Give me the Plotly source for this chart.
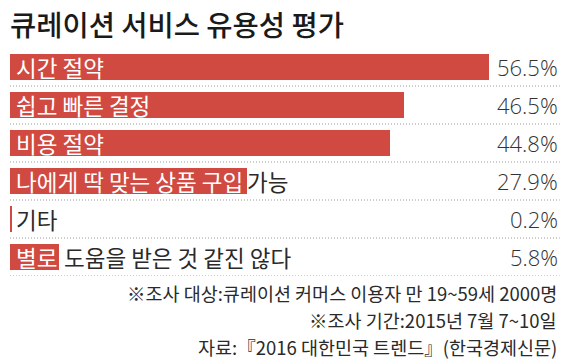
import plotly.graph_objects as go

title = "큐레이션 서비스 유용성 평가"
categories = ["시간 절약", "쉽고 빠른 결정", "비용 절약", "나에게 딱 맞는 상품 구입", "기타", "별로"]
inside_labels = ["시간 절약", "쉽고 빠른 결정", "비용 절약", "나에게 딱 맞는 상품 구입", "", "별로"]
outside_labels = ["", "", "", "가능", "기타", "도움을 받은 것 같진 않다"]
values = [56.5, 46.5, 44.8, 27.9, 0.2, 5.8]
value_labels = ["56.5%", "46.5%", "44.8%", "27.9%", "0.2%", "5.8%"]
notes = [
    "※조사 대상:큐레이션 커머스 이용자 만 19~59세 2000명",
    "※조사 기간:2015년 7월 7~10일",
    "자료:『2016 대한민국 트렌드』(한국경제신문)",
]

W, H = 570, 362
ML, MR, MT, MB = 10, 13, 48, 86
PH = H - MT - MB
RED = "#d14a42"
KFONT = "Noto Sans CJK KR"
out_shift = [0, 0, 0, -2, 2, 3]

fig = go.Figure()
fig.add_trace(go.Bar(
    y=categories, x=values, orientation="h",
    marker=dict(color=RED, line=dict(width=0)),
    width=0.68, hoverinfo="skip", showlegend=False,
))

ann = []
for cat, inl, outl, v, vl, sh in zip(categories, inside_labels, outside_labels, values,
                                     value_labels, out_shift):
    if inl:
        ann.append(dict(x=0, y=cat, xref="x", yref="y", text=inl, showarrow=False,
                        xanchor="left", yanchor="middle", xshift=4,
                        font=dict(family=KFONT, size=22.5, color="white")))
    if outl:
        ann.append(dict(x=v, y=cat, xref="x", yref="y", text=outl, showarrow=False,
                        xanchor="left", yanchor="middle", xshift=sh,
                        font=dict(family=KFONT, size=22.5, color="#2a2a2a")))
    ann.append(dict(x=1, y=cat, xref="paper", yref="y", text=vl, showarrow=False,
                    xanchor="right", yanchor="middle", xshift=3,
                    font=dict(family="Open Sans", size=22, color="#333333", weight=300)))

note_centers = [293, 320, 347]
for t, yc in zip(notes, note_centers):
    ann.append(dict(x=1, y=(H - MB - yc) / PH, xref="paper", yref="paper", text=t,
                    showarrow=False, xanchor="right", yanchor="middle", xshift=2,
                    font=dict(family=KFONT, size=18.5, color="#2a2a2a")))

ann.append(dict(x=0, y=(H - MB - 23) / PH, xref="paper", yref="paper", text=title,
                showarrow=False, xanchor="left", yanchor="middle", xshift=-2,
                font=dict(family=KFONT, size=28.5, color="#1a1a1a", weight=500)))

shapes = []
for i in range(len(categories)):
    shapes.append(dict(type="line", xref="paper", yref="y", x0=0, x1=1.005,
                       y0=i + 0.5, y1=i + 0.5,
                       line=dict(color="#9a9a9a", width=1, dash="1px,2px")))

xmax = (W - ML - MR) * values[0] / 479.0
fig.update_layout(
    width=W, height=H,
    margin=dict(l=ML, r=MR, t=MT, b=MB),
    paper_bgcolor="white", plot_bgcolor="white",
    xaxis=dict(range=[0, xmax], visible=False, fixedrange=True),
    yaxis=dict(categoryorder="array", categoryarray=categories,
               range=[len(categories) - 0.5, -0.5], visible=False, fixedrange=True),
    annotations=ann, shapes=shapes,
    bargap=0,
)

fig.write_html("out.html", config={"displayModeBar": False},
               post_script="document.body.style.margin='0';document.body.style.overflow='hidden';")
